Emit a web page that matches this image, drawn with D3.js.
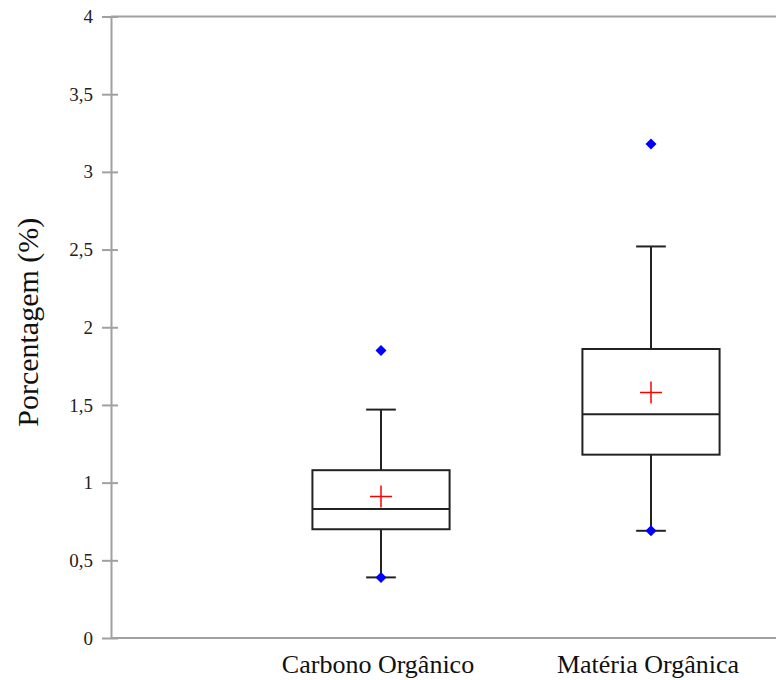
<!DOCTYPE html>
<html>
<head>
<meta charset="utf-8">
<script src="https://cdn.jsdelivr.net/npm/d3@7"></script>
<style>
  body { margin: 0; background: #fff; }
  svg { display: block; }
</style>
</head>
<body>
<div id="chart"></div>
<script>
// box plot values
var categories = ["Carbono Orgânico", "Matéria Orgânica"];
var whiskerLow = [0.39, 0.69];
var q1 = [0.70, 1.18];
var median = [0.83, 1.44];
var q3 = [1.08, 1.86];
var whiskerHigh = [1.47, 2.52];
var means = [0.91, 1.58];
var minPoints = [0.39, 0.69];
var outliers = [[1.85], [3.18]];
var yTicks = [0, 0.5, 1, 1.5, 2, 2.5, 3, 3.5, 4];

var width = 776, height = 680;
var serif = "'Liberation Serif', 'Times New Roman', serif";
var svg = d3.select("#chart").append("svg")
    .attr("width", width)
    .attr("height", height);

var y = d3.scaleLinear().domain([0, 4]).range([638, 16.5]);
// category index -> x, plot keeps going past the right edge
var x = d3.scaleLinear().domain([0, 3]).range([111, 921]);
var boxHalf = 0.254, capHalf = 0.055;

var ptBR = d3.formatLocale({decimal: ",", thousands: ".", grouping: [3], currency: ["R$", ""]});
var fmt = ptBR.format("~g");

// frame lines
svg.append("line")
    .attr("x1", x(0)).attr("x2", width)
    .attr("y1", y(4)).attr("y2", y(4))
    .attr("stroke", "#a0a0a0").attr("stroke-width", 2);
svg.append("line")
    .attr("x1", x(0)).attr("x2", width)
    .attr("y1", y(0)).attr("y2", y(0))
    .attr("stroke", "#a0a0a0").attr("stroke-width", 2);

var yAxis = svg.append("g")
    .attr("transform", "translate(" + x(0) + ",0)")
    .call(d3.axisLeft(y).tickValues(yTicks).tickSize(9).tickSizeOuter(0).tickPadding(9).tickFormat(fmt));
yAxis.select(".domain").attr("stroke", "#a0a0a0").attr("stroke-width", 2);
yAxis.selectAll(".tick line")
    .attr("x1", 7)
    .attr("stroke", "#a0a0a0").attr("stroke-width", 2);
yAxis.selectAll(".tick text")
    .attr("fill", "#222")
    .style("font-family", serif)
    .style("font-size", "19px");

svg.append("text")
    .attr("transform", "translate(38," + (y(2) - 5) + ") rotate(-90)")
    .attr("text-anchor", "middle")
    .style("font-family", serif)
    .style("font-size", "30px")
    .attr("fill", "#111")
    .text("Porcentagem (%)");

// category labels
svg.selectAll(".cat")
    .data(categories)
    .enter().append("text")
    .attr("class", "cat")
    .attr("x", function(d, i) { return x(i + 1) - 3; })
    .attr("y", 673)
    .attr("text-anchor", "middle")
    .style("font-family", serif)
    .style("font-size", "26px")
    .attr("fill", "#111")
    .text(function(d) { return d; });

var boxes = svg.selectAll(".box")
    .data(categories)
    .enter().append("g")
    .attr("class", "box");

var stroke = "#222";
boxes.each(function(d, i) {
    var g = d3.select(this);
    var c = i + 1;
    // whiskers
    g.append("line")
        .attr("x1", x(c)).attr("x2", x(c))
        .attr("y1", y(q3[i])).attr("y2", y(whiskerHigh[i]))
        .attr("stroke", stroke).attr("stroke-width", 2);
    g.append("line")
        .attr("x1", x(c)).attr("x2", x(c))
        .attr("y1", y(q1[i])).attr("y2", y(whiskerLow[i]))
        .attr("stroke", stroke).attr("stroke-width", 2);
    g.append("line")
        .attr("x1", x(c - capHalf)).attr("x2", x(c + capHalf))
        .attr("y1", y(whiskerHigh[i])).attr("y2", y(whiskerHigh[i]))
        .attr("stroke", stroke).attr("stroke-width", 2);
    g.append("line")
        .attr("x1", x(c - capHalf)).attr("x2", x(c + capHalf))
        .attr("y1", y(whiskerLow[i])).attr("y2", y(whiskerLow[i]))
        .attr("stroke", stroke).attr("stroke-width", 2);
    // box
    g.append("rect")
        .attr("x", x(c - boxHalf))
        .attr("y", y(q3[i]))
        .attr("width", x(c + boxHalf) - x(c - boxHalf))
        .attr("height", y(q1[i]) - y(q3[i]))
        .attr("fill", "none")
        .attr("stroke", stroke).attr("stroke-width", 2);
    g.append("line")
        .attr("x1", x(c - boxHalf)).attr("x2", x(c + boxHalf))
        .attr("y1", y(median[i])).attr("y2", y(median[i]))
        .attr("stroke", stroke).attr("stroke-width", 2);
    // mean: red plus sign
    g.append("path")
        .attr("d", "M-11,0H11M0,-11V11")
        .attr("transform", "translate(" + x(c) + "," + y(means[i]) + ")")
        .attr("fill", "none")
        .attr("stroke", "#ff0000").attr("stroke-width", 1.5);
    // min + outliers
    var pts = [minPoints[i]].concat(outliers[i]);
    g.selectAll(".pt")
        .data(pts)
        .enter().append("path")
        .attr("class", "pt")
        .attr("d", "M0,-5.5L5.5,0L0,5.5L-5.5,0Z")
        .attr("transform", function(v) { return "translate(" + x(c) + "," + y(v) + ")"; })
        .attr("fill", "#0000ff");
});
</script>
</body>
</html>
